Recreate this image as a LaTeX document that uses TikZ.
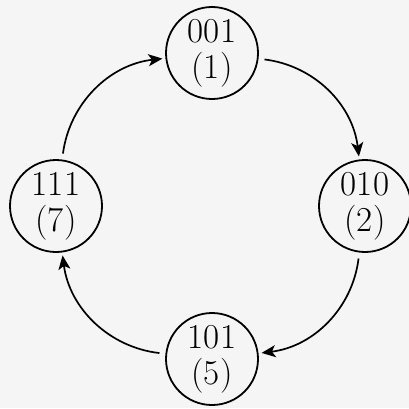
\documentclass[tikz,border=0pt]{standalone}
\usepackage{amsmath}
\usepackage{tikz}
\usetikzlibrary{arrows.meta}

\tikzset{
  stnode/.style={draw,circle,line width=1.8pt,minimum size=92pt,inner sep=0pt,align=center,
    font=\fontsize{35}{36}\selectfont},
  stedge/.style={line width=1.7pt,-{Stealth[length=14pt,width=12pt,inset=3.5pt]},
    shorten <=6pt,shorten >=3pt}
}

\begin{document}
\begin{tikzpicture}[x=1pt,y=1pt]
\fill[black!4] (0,0) rectangle (409,408);
\useasboundingbox (0,0) rectangle (409,408);
\node[stnode] (n1) at (212,355) {001\\(1)};
\node[stnode] (n2) at (365,202) {010\\(2)};
\node[stnode] (n5) at (212,49) {101\\(5)};
\node[stnode] (n7) at (56,202) {111\\(7)};
\draw[stedge] (n1) to[bend left=38] (n2);
\draw[stedge] (n2) to[bend left=38] (n5);
\draw[stedge] (n5) to[bend left=38] (n7);
\draw[stedge] (n7) to[bend left=38] (n1);
\end{tikzpicture}
\end{document}
